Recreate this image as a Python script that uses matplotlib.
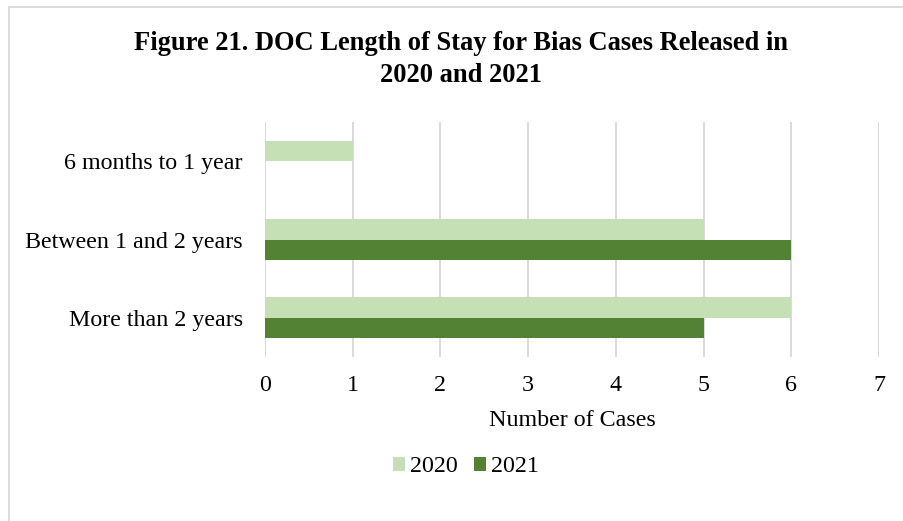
import numpy as np
import matplotlib.pyplot as plt
from matplotlib.patches import Rectangle

categories = ['6 months to 1 year', 'Between 1 and 2 years', 'More than 2 years']
cases_2020 = [1, 5, 6]
cases_2021 = [0, 6, 5]
xticks = [0, 1, 2, 3, 4, 5, 6, 7]

plt.rcParams['font.family'] = ['Liberation Serif', 'DejaVu Serif']

W, H = 904, 521
fig = plt.figure(figsize=(W / 100, H / 100), dpi=100)
ax = fig.add_axes([265 / W, 1 - 357 / H, 614 / W, 235 / H])

# chart frame (only top and left edges fall inside the canvas)
fig.patches.append(Rectangle((9 / W, -0.1), 1.2, 1 - 6.5 / H + 0.1,
                             transform=fig.transFigure, fill=False,
                             edgecolor='#d9d9d9', linewidth=1.3))

fs = 17.3
y = np.arange(len(categories))
h = 0.26
ax.barh(y - h / 2, cases_2020, height=h, color='#c5e0b4', label='2020', zorder=3)
ax.barh(y + h / 2, cases_2021, height=h, color='#548235', label='2021', zorder=3)

ax.set_ylim(len(categories) - 0.5, -0.5)
ax.set_yticks(y)
ax.set_yticklabels(categories, fontsize=fs)
ax.set_xlim(0, 7)
ax.set_xticks(xticks)
ax.set_xticklabels([str(t) for t in xticks], fontsize=fs)
ax.tick_params(axis='y', length=0, pad=16)
ax.tick_params(axis='x', length=0, pad=13)
ax.grid(axis='x', color='#d9d9d9', linewidth=1.4, zorder=0)
for s in ax.spines.values():
    s.set_visible(False)

ax.set_xlabel('Number of Cases', fontsize=fs, labelpad=10)

fig.text(461 / W, 1 - 44 / H, 'Figure 21. DOC Length of Stay for Bias Cases Released in',
         ha='center', va='center', fontsize=19.1, fontweight='bold')
fig.text(461 / W, 1 - 75 / H, '2020 and 2021',
         ha='center', va='center', fontsize=19.1, fontweight='bold')

fig.legend(loc='center', bbox_to_anchor=(466 / W, 1 - 467 / H), ncol=2,
           frameon=False, fontsize=fs, handlelength=0.5, handleheight=0.5,
           handletextpad=0.2, columnspacing=0.7, borderpad=0)

fig.savefig('out.png', dpi=100)
